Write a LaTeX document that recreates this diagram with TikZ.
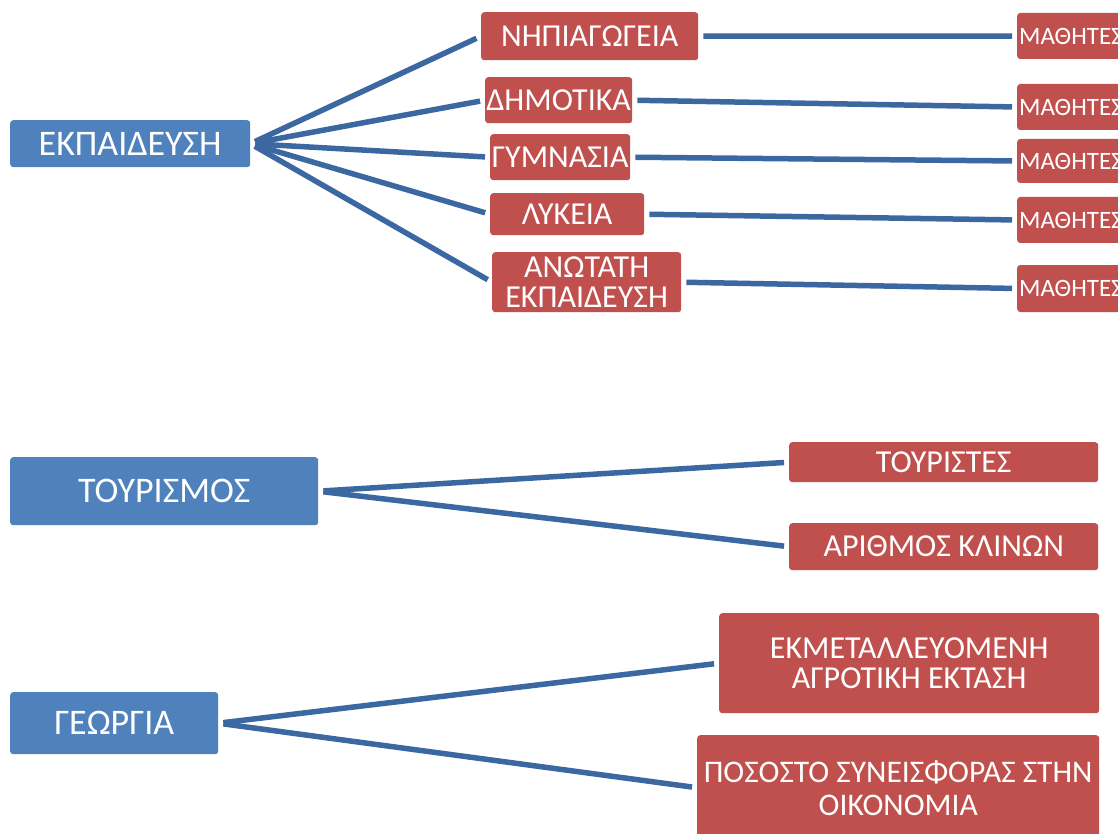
\documentclass[tikz,border=0pt]{standalone}
\usepackage{fontspec}
\setmainfont{Carlito}
\definecolor{boxblue}{HTML}{4F81BD}
\definecolor{boxred}{HTML}{C0504D}
\definecolor{lineblue}{HTML}{3C68A2}
\tikzset{
  base/.style={text=white, rounded corners=3pt, inner sep=0pt, align=center, anchor=north west},
  bluebox/.style={base, fill=boxblue, font=\fontsize{36pt}{37pt}\selectfont},
  redbox/.style={base, fill=boxred, font=\fontsize{32pt}{30pt}\selectfont},
  pupil/.style={text=white, rounded corners=3pt, fill=boxred, inner xsep=2pt, inner ysep=0pt, anchor=west, font=\fontsize{25pt}{26pt}\selectfont},
  link/.style={draw=lineblue, line width=5.5pt, shorten <=5pt, shorten >=5pt}
}
\begin{document}
\begin{tikzpicture}[x=1pt,y=-1pt]
\useasboundingbox (0,0) rectangle (1118,834);
\clip (0,0) rectangle (1118,834);
% left (blue) boxes
\node[bluebox, minimum width=240pt, minimum height=47pt] (ek) at (10,120) {ΕΚΠΑΙΔΕΥΣΗ};
\node[bluebox, minimum width=308pt, minimum height=68pt] (tour) at (10,457) {ΤΟΥΡΙΣΜΟΣ};
\node[bluebox, minimum width=208pt, minimum height=62pt] (geo) at (10,692) {ΓΕΩΡΓΙΑ};
% education levels
\node[redbox, minimum width=217pt, minimum height=48pt] (nh) at (481,12) {ΝΗΠΙΑΓΩΓΕΙΑ};
\node[redbox, minimum width=147pt, minimum height=46pt] (dh) at (485,77) {ΔΗΜΟΤΙΚΑ};
\node[redbox, minimum width=140pt, minimum height=46pt] (gy) at (490,134) {ΓΥΜΝΑΣΙΑ};
\node[redbox, minimum width=154pt, minimum height=42pt] (ly) at (490,193) {ΛΥΚΕΙΑ};
\node[redbox, minimum width=189pt, minimum height=60pt] (an) at (492,252) {ΑΝΩΤΑΤΗ\\ΕΚΠΑΙΔΕΥΣΗ};
% pupils
\node[pupil, minimum height=46pt] (m1) at (1017,36) {ΜΑΘΗΤΕΣ};
\node[pupil, minimum height=46pt] (m2) at (1017,107) {ΜΑΘΗΤΕΣ};
\node[pupil, minimum height=44pt] (m3) at (1017,161) {ΜΑΘΗΤΕΣ};
\node[pupil, minimum height=46pt] (m4) at (1017,220) {ΜΑΘΗΤΕΣ};
\node[pupil, minimum height=47pt] (m5) at (1017,288.5) {ΜΑΘΗΤΕΣ};
% tourism
\node[redbox, minimum width=309pt, minimum height=40pt] (tu) at (789,442) {ΤΟΥΡΙΣΤΕΣ};
\node[redbox, minimum width=309pt, minimum height=47pt] (ar) at (789,523) {ΑΡΙΘΜΟΣ ΚΛΙΝΩΝ};
% agriculture
\node[redbox, minimum width=380pt, minimum height=100pt] (ekm) at (719,613) {ΕΚΜΕΤΑΛΛΕΥΟΜΕΝΗ\\ΑΓΡΟΤΙΚΗ ΕΚΤΑΣΗ};
\node[redbox, minimum width=402pt, minimum height=105pt, font=\fontsize{31.5pt}{33pt}\selectfont] (pos) at (697,735) {ΠΟΣΟΣΤΟ ΣΥΝΕΙΣΦΟΡΑΣ ΣΤΗΝ\\ΟΙΚΟΝΟΜΙΑ};
% connectors
\foreach \t in {nh,dh,gy,ly,an} \draw[link] (ek.east) -- (\t.west);
\draw[link] (nh.east) -- (m1.west);
\draw[link] (dh.east) -- (m2.west);
\draw[link] (gy.east) -- (m3.west);
\draw[link] (ly.east) -- (m4.west);
\draw[link] (an.east) -- (m5.west);
\draw[link] (tour.east) -- (tu.west);
\draw[link] (tour.east) -- (ar.west);
\draw[link] (geo.east) -- (ekm.west);
\draw[link] (geo.east) -- (pos.west);
\end{tikzpicture}
\end{document}
